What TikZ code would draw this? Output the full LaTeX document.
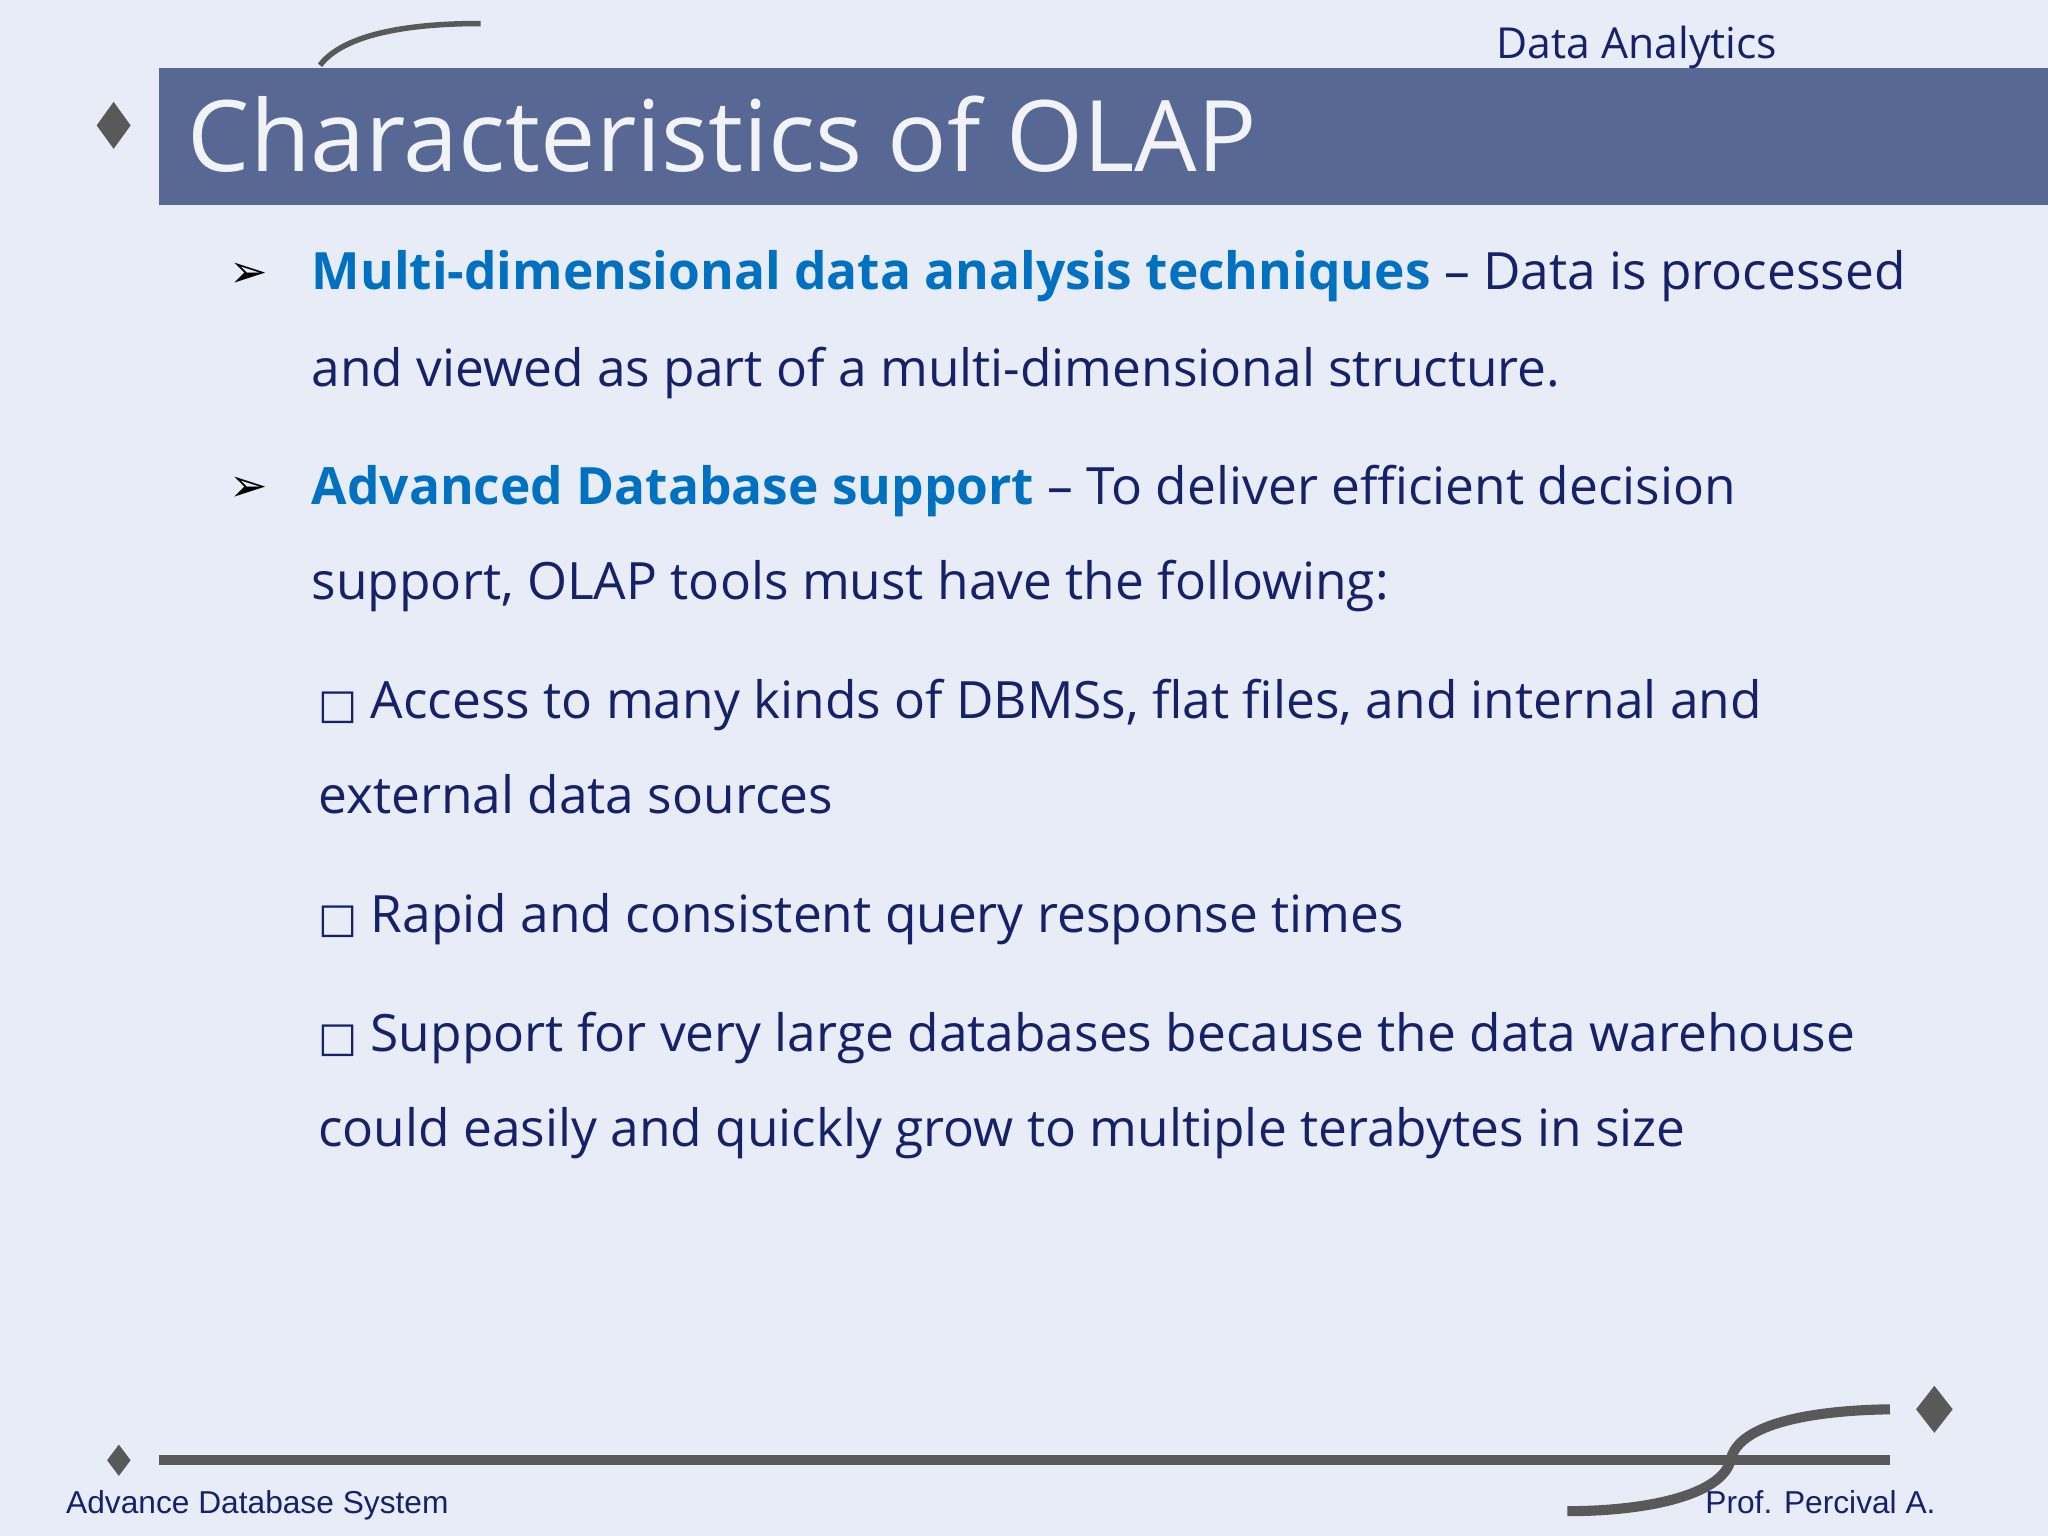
\documentclass[tikz,border=0pt]{standalone}
\usepackage{fontspec}
\setmainfont{Open Sans}
\newfontfamily\djv{DejaVu Sans}
\newfontfamily\arial{Liberation Sans}
\definecolor{bg}{HTML}{E8ECF7}
\definecolor{bar}{HTML}{566893}
\definecolor{navy}{HTML}{15226A}
\definecolor{hl}{HTML}{0070C0}
\definecolor{deco}{HTML}{595959}
\begin{document}
\begin{tikzpicture}[x=0.01cm,y=-0.01cm,
  body/.style={anchor=base west,inner sep=0,text=navy,font=\fontsize{11.2}{13}\selectfont},
  bul/.style={anchor=base west,inner sep=0,font=\djv\fontsize{10}{12}\selectfont},
  foot/.style={anchor=base west,inner sep=0,text=navy,font=\arial\fontsize{6.9}{8}\selectfont},
  dia/.style={fill=deco,draw=none}]
\useasboundingbox (0,0) rectangle (1568,1176);
\fill[bg] (0,0) rectangle (1568,1176);
\draw[deco,line width=1.2pt] (245,50) .. controls (260,30) and (300,18) .. (368,18);
\fill[bar] (122,52) rectangle (1568,157);
\fill[dia] (87,78) -- (100,96) -- (87,114) -- (74,96) -- cycle;
\node[anchor=base west,inner sep=0,text=bar!8!white,font=\fontsize{21.5}{24}\selectfont] (title) at (143,131) {Characteristics of OLAP};
\node[foot,text=navy,font=\fontsize{9.3}{11}\selectfont] (top) at (1145,45) {Data Analytics};
\node[bul] (b1) at (175,220) {➢};
\node[body] (t1) at (238,222) {\textcolor{hl}{\bfseries Multi-dimensional data analysis techniques} – Data is processed};
\node[body] (t1b) at (238,296) {and viewed as part of a multi-dimensional structure.};
\node[bul] (b2) at (175,384) {➢};
\node[body] (t2) at (238,386) {\textcolor{hl}{\bfseries Advanced Database support} – To deliver efficient decision};
\node[body] (t2b) at (238,459) {support, OLAP tools must have the following:};
\node[body] (s1) at (243,550) {{\djv\fontsize{9}{10}\selectfont □} Access to many kinds of DBMSs, flat files, and internal and};
\node[body] (s1b) at (243,623) {external data sources};
\node[body] (s2) at (243,714) {{\djv\fontsize{9}{10}\selectfont □} Rapid and consistent query response times};
\node[body] (s3) at (243,805) {{\djv\fontsize{9}{10}\selectfont □} Support for very large databases because the data warehouse};
\node[body] (s3b) at (243,878) {could easily and quickly grow to multiple terabytes in size};
\draw[deco,line width=2.2pt] (122,1118) -- (1447,1118);
\fill[dia] (91,1106) -- (100,1118) -- (91,1130) -- (82,1118) -- cycle;
\fill[dia] (1481,1061) -- (1495,1079) -- (1481,1097) -- (1467,1079) -- cycle;
\draw[deco,line width=2.2pt] (1447,1079) .. controls (1380,1080) and (1330,1092) .. (1325,1118) .. controls (1318,1145) and (1260,1157) .. (1200,1157);
\node[foot] (f1) at (50,1159) {Advance Database System};
\node[foot] (f2) at (1305,1159) {Prof. Percival A.};
\end{tikzpicture}
\end{document}
